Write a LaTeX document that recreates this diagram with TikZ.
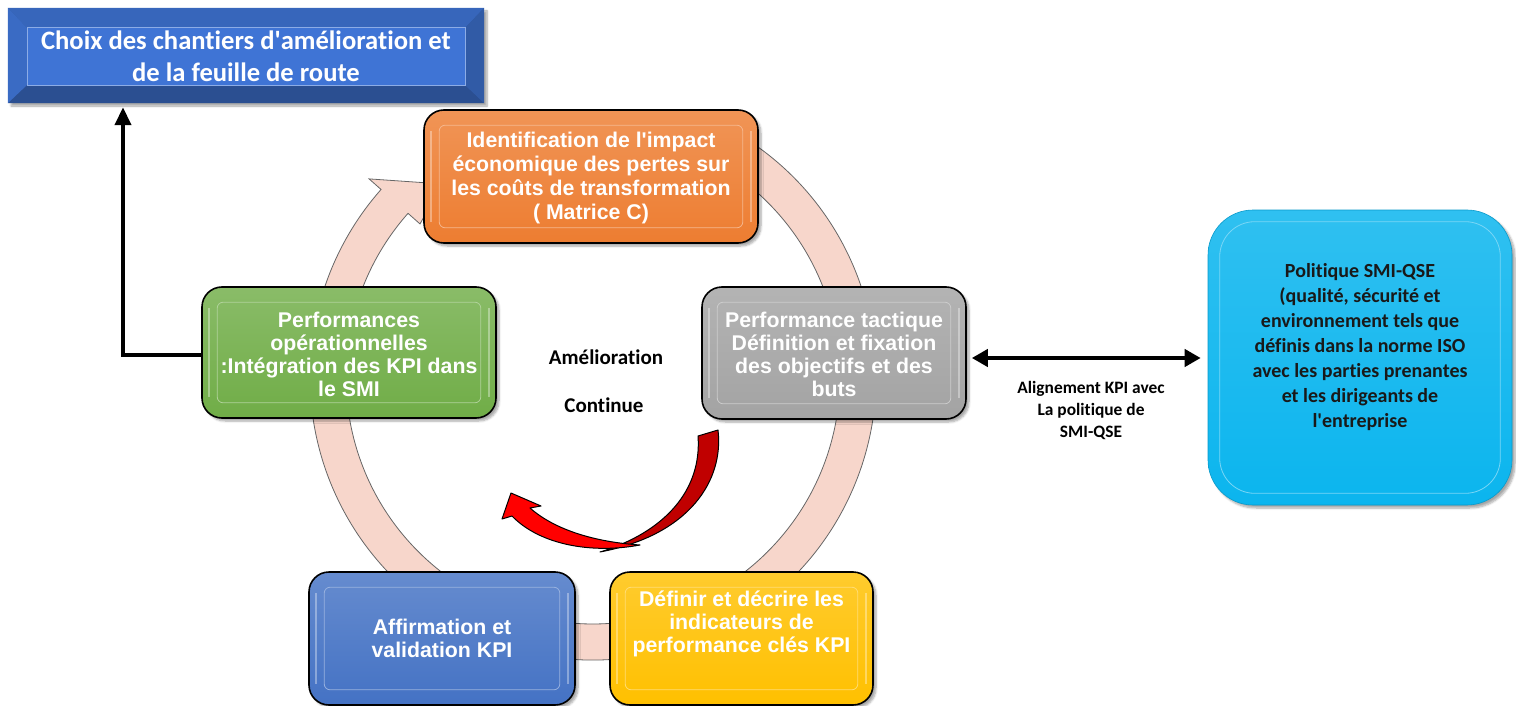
\documentclass[tikz,border=0pt]{standalone}
\usepackage{fontspec}
\setmainfont{Liberation Sans}
\newfontfamily\calibri[Ligatures=NoCommon]{Carlito}
\usetikzlibrary{arrows.meta,shadows.blur}

\definecolor{cOrange}{HTML}{ED7D31}
\definecolor{cGray}{HTML}{A3A3A3}
\definecolor{cGreen}{HTML}{70AD47}
\definecolor{cBlue}{HTML}{4472C4}
\definecolor{cYellow}{HTML}{FFC000}
\definecolor{cCyan}{HTML}{0BB5EE}
\definecolor{cRing}{HTML}{F7D6CB}
\definecolor{cRed}{HTML}{FF0000}
\definecolor{cDarkRed}{HTML}{C00000}
\definecolor{cFace}{HTML}{3F74D5}

\begin{document}
\begin{tikzpicture}[x=1pt,y=-1pt,
  softshadow/.style={blur shadow={shadow xshift=3pt,shadow yshift=-3pt,shadow blur steps=6,shadow opacity=35}},
  cyclebox/.style={rounded corners=20pt,draw=black,line width=1.6pt,
    minimum width=#1,softshadow},
  innerline/.style={rounded corners=6pt,line width=0.8pt},
  boxtext/.style={text=white,align=center,
    font=\bfseries\fontsize{21.3pt}{23pt}\selectfont},
  caltext/.style={align=center,font=\calibri\bfseries},
  ring/.style={fill=cRing,draw=gray!80!black,line width=0.8pt},
  thickarrow/.style={line width=4pt,-{Triangle[width=16pt,length=18pt]}},
  dblarrow/.style={line width=4pt,{Triangle[width=17pt,length=16pt]}-{Triangle[width=17pt,length=16pt]}}
]
\useasboundingbox (0,0) rectangle (1516,706);

% circular flow ring with its arrowhead, behind the boxes
\begin{scope}[shift={(593,377)},y=1pt]
  \draw[ring] (65:283) arc[start angle=65,end angle=-221.5,radius=283pt]
    -- (-221.5:299) -- (-232:245) -- (-221.5:231) -- (-221.5:247)
    arc[start angle=-221.5,end angle=65,radius=247pt] -- cycle;
\end{scope}

% curved red arrow: back face, then front face
\draw[fill=cDarkRed,line width=1pt,line join=round]
  (698,436) -- (718,430) .. controls (724,480) and (690,535) .. (600,552)
  .. controls (665,532) and (702,490) .. (698,436) -- cycle;
\draw[fill=cRed,line width=1pt,line join=round]
  (640,545) .. controls (592,554) and (540,545) .. (512,516)
  -- (502,519) -- (511,493) -- (541,506) -- (530,508)
  .. controls (555,530) and (595,542) .. (640,545) -- cycle;

% cycle boxes
\node[cyclebox=334pt,minimum height=133pt,top color=cOrange!82!white,bottom color=cOrange] (orange) at (591,176.5) {};
\node[cyclebox=264pt,minimum height=132pt,top color=cGray!82!white,bottom color=cGray] (gray) at (834,353) {};
\node[cyclebox=294pt,minimum height=131pt,top color=cGreen!82!white,bottom color=cGreen] (green) at (349,352.5) {};
\node[cyclebox=266pt,minimum height=133pt,top color=cBlue!82!white,bottom color=cBlue] (blue) at (442,638.5) {};
\node[cyclebox=263pt,minimum height=133pt,top color=cYellow!82!white,bottom color=cYellow] (yellow) at (741.5,638.5) {};

\foreach \b/\c in {orange/cOrange,gray/cGray,green/cGreen,blue/cBlue,yellow/cYellow}{
  \draw[innerline,draw=\c!55!white] ([shift={(16pt,-16pt)}]\b.north west) rectangle ([shift={(-16pt,16pt)}]\b.south east);
  \draw[line width=1.6pt,white,opacity=0.35] ([shift={(8pt,-22pt)}]\b.north west) -- ([shift={(8pt,22pt)}]\b.south west);
  \draw[line width=1.6pt,white,opacity=0.35] ([shift={(-8pt,-22pt)}]\b.north east) -- ([shift={(-8pt,22pt)}]\b.south east);
}

\node[boxtext,font=\bfseries\fontsize{21.3pt}{24pt}\selectfont] (orange-text) at (591,178)
  {Identification de l\textquotesingle impact\\économique des pertes sur\\les coûts de transformation\\( Matrice C)};
\node[boxtext] (gray-text) at (834,354)
  {Performance tactique\\Définition et fixation\\des objectifs et des\\buts};
\node[boxtext] (green-text) at (349,354)
  {Performances\\opérationnelles\\:Intégration des KPI dans\\le SMI};
\node[boxtext] (blue-text) at (442,638)
  {Affirmation et\\validation KPI};
\node[boxtext] (yellow-text) at (741.5,624)
  {Définir et décrire les\\indicateurs de\\performance clés KPI};

% centre caption of the cycle
\node[caltext,font=\calibri\bfseries\fontsize{21pt}{25pt}\selectfont] (amel) at (606,357) {Amélioration};
\node[caltext,font=\calibri\bfseries\fontsize{21pt}{25pt}\selectfont] (cont) at (604,405) {Continue};

% bevelled roadmap box
\node[minimum width=476pt,minimum height=95pt,fill=cFace!75!black,softshadow] (choix) at (246,55.5) {};
\fill[cFace!88!black] (choix.north west) -- (choix.north east) -- ([shift={(-19pt,-20pt)}]choix.north east) -- ([shift={(19pt,-20pt)}]choix.north west) -- cycle;
\fill[cFace!68!black] (choix.south west) -- (choix.south east) -- ([shift={(-19pt,18pt)}]choix.south east) -- ([shift={(19pt,18pt)}]choix.south west) -- cycle;
\fill[cFace!92!black] (choix.north west) -- ([shift={(19pt,-20pt)}]choix.north west) -- ([shift={(19pt,18pt)}]choix.south west) -- (choix.south west) -- cycle;
\fill[cFace!78!black] (choix.north east) -- ([shift={(-19pt,-20pt)}]choix.north east) -- ([shift={(-19pt,18pt)}]choix.south east) -- (choix.south east) -- cycle;
\draw[fill=cFace,draw=cFace!60!white,line width=0.6pt] ([shift={(19pt,-20pt)}]choix.north west) rectangle ([shift={(-19pt,18pt)}]choix.south east);
\node[caltext,text=white,font=\calibri\bfseries\fontsize{26.6pt}{32pt}\selectfont] (choix-text) at (246,56)
  {Choix des chantiers d\textquotesingle amélioration et\\de la feuille de route};

% policy box
\node[rounded corners=45pt,minimum width=304pt,minimum height=295pt,
  top color=cCyan!85!white,bottom color=cCyan,draw=cCyan!85!black,line width=0.6pt,softshadow] (policy) at (1360,357.5) {};
\draw[rounded corners=35pt,draw=cCyan!55!white,line width=0.8pt]
  ([shift={(12pt,-12pt)}]policy.north west) rectangle ([shift={(-12pt,12pt)}]policy.south east);
\node[caltext,text=black!90,font=\calibri\bfseries\fontsize{20pt}{25pt}\selectfont] (policy-text) at (1360,347)
  {Politique SMI-QSE\\(qualité, sécurité et\\environnement tels que\\définis dans la norme ISO\\avec les parties prenantes\\et les dirigeants de\\l\textquotesingle entreprise};

% alignment link
\coordinate (linkstart) at ([shift={(5pt,-5pt)}]gray.east);
\coordinate (linkend) at ([xshift=-7pt]policy.west |- linkstart);
\draw[dblarrow] (linkstart) -- (linkend);
\node[caltext,font=\calibri\bfseries\fontsize{17.4pt}{22pt}\selectfont] (align-text) at (1091,410)
  {Alignement KPI avec\\La politique de\\SMI-QSE};

% feedback from operational performance to the roadmap
\coordinate (elbow) at (123,355);
\coordinate (elbowtop) at ([yshift=-4pt]elbow |- choix.south);
\draw[thickarrow,line join=miter] (green.west |- elbow) -- (elbow) -- (elbowtop);
\end{tikzpicture}
\end{document}
